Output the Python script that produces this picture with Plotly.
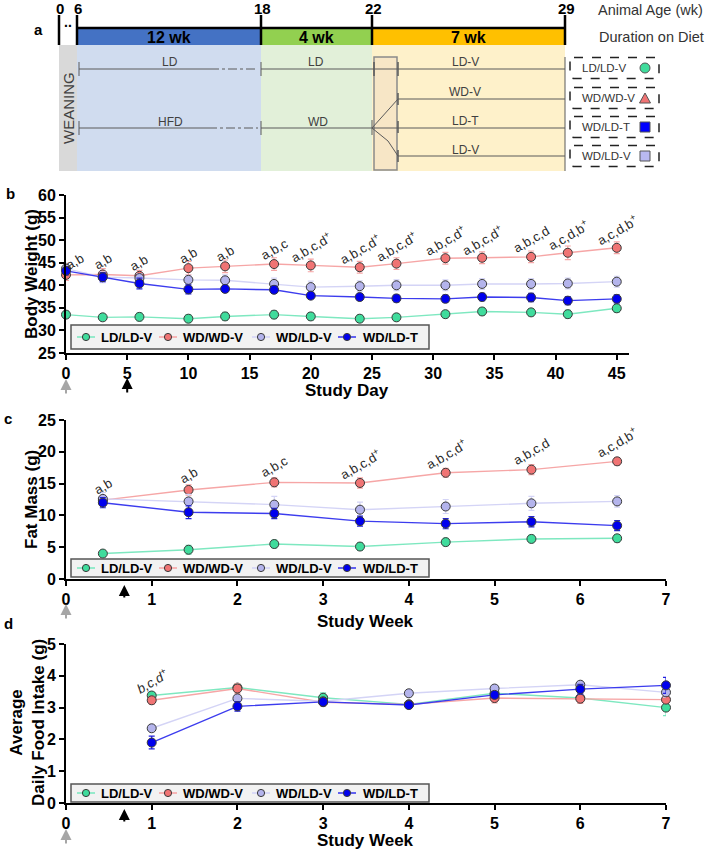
import plotly.graph_objects as go

W, H = 708, 852
FONT = "Arial, 'Liberation Sans', Helvetica, sans-serif"

# ---------------- data ----------------
series_names = ["LD/LD-V", "WD/WD-V", "WD/LD-V", "WD/LD-T"]
marker_fill = ["#3FDC9C", "#F07474", "#B4B4EC", "#0000EE"]
line_col = ["#7EE8C0", "#F6A6A6", "#D4D4F6", "#3C3CEE"]

# b: body weight
study_day = [0, 3, 6, 10, 13, 17, 20, 24, 27, 31, 34, 38, 41, 45]
bw_ld_ldv = [33.5, 32.9, 33.0, 32.6, 33.1, 33.5, 33.1, 32.6, 32.9, 33.6, 34.2, 34.0, 33.6, 34.9]
bw_wd_wdv = [42.3, 42.4, 42.1, 43.8, 44.2, 44.7, 44.4, 44.0, 44.8, 46.0, 46.1, 46.3, 47.2, 48.3]
bw_wd_ldv = [43.7, 41.8, 41.6, 41.2, 41.1, 40.3, 39.6, 39.8, 40.0, 40.0, 40.3, 40.3, 40.4, 40.8]
bw_wd_ldt = [43.2, 41.8, 40.4, 39.1, 39.2, 39.0, 37.7, 37.4, 37.1, 37.0, 37.4, 37.3, 36.6, 37.0]
bw_err_ld_ldv = [0.8, 0.6, 0.9, 0.9, 0.9, 0.9, 0.8, 0.8, 0.8, 0.8, 0.8, 0.8, 0.9, 0.9]
bw_err_wd_wdv = [1.2, 1.3, 1.2, 1.5, 1.4, 1.4, 1.4, 1.3, 1.3, 1.3, 1.3, 1.3, 1.5, 1.3]
bw_err_wd_ldv = [1.2, 1.2, 1.0, 1.0, 1.2, 1.3, 1.3, 1.2, 1.2, 1.2, 1.2, 1.2, 1.2, 1.2]
bw_err_wd_ldt = [0.9, 1.0, 1.2, 1.0, 0.8, 0.8, 0.6, 0.7, 0.8, 0.8, 0.8, 0.9, 0.9, 0.9]
bw_sig = ["a,b", "a,b", "a,b", "a,b", "a,b", "a,b,c", "a,b,c,d<sup>+</sup>", "a,b,c,d<sup>+</sup>",
          "a,b,c,d<sup>+</sup>", "a,b,c,d<sup>+</sup>", "a,b,c,d<sup>+</sup>", "a,b,c,d",
          "a,c,d,b<sup>+</sup>", "a,c,d,b<sup>+</sup>"]

# c: fat mass
fm_week = [0.43, 1.43, 2.43, 3.43, 4.43, 5.43, 6.43]
fm_ld_ldv = [4.0, 4.6, 5.5, 5.1, 5.8, 6.3, 6.4]
fm_wd_wdv = [12.4, 14.0, 15.2, 15.1, 16.7, 17.2, 18.5]
fm_wd_ldv = [12.6, 12.2, 11.7, 10.9, 11.4, 11.9, 12.2]
fm_wd_ldt = [12.0, 10.5, 10.3, 9.1, 8.7, 9.0, 8.4]
fm_err_ld_ldv = [0.4, 0.7, 0.6, 0.6, 0.6, 0.6, 0.6]
fm_err_wd_wdv = [0.7, 0.8, 0.7, 0.8, 0.7, 0.8, 0.6]
fm_err_wd_ldv = [1.0, 1.1, 1.3, 1.2, 1.1, 1.1, 0.9]
fm_err_wd_ldt = [0.8, 1.0, 0.8, 0.8, 0.8, 0.8, 0.8]
fm_sig = ["a,b", "a,b", "a,b,c", "a,b,c,d<sup>+</sup>", "a,b,c,d<sup>+</sup>", "a,b,c,d",
          "a,c,d,b<sup>+</sup>"]

# d: food intake
fi_week = [1, 2, 3, 4, 5, 6, 7]
fi_ld_ldv = [3.38, 3.63, 3.31, 3.10, 3.45, 3.30, 3.00]
fi_wd_wdv = [3.23, 3.60, 3.17, 3.10, 3.30, 3.28, 3.25]
fi_wd_ldv = [2.35, 3.29, 3.20, 3.45, 3.60, 3.72, 3.48]
fi_wd_ldt = [1.90, 3.04, 3.18, 3.08, 3.40, 3.58, 3.70]
fi_err_ld_ldv = [0.08, 0.10, 0.15, 0.10, 0.10, 0.10, 0.25]
fi_err_wd_wdv = [0.12, 0.15, 0.12, 0.10, 0.15, 0.15, 0.12]
fi_err_wd_ldv = [0.10, 0.10, 0.10, 0.10, 0.10, 0.10, 0.15]
fi_err_wd_ldt = [0.20, 0.15, 0.08, 0.08, 0.10, 0.15, 0.25]
fi_sig_week = 1
fi_sig = "<i>b,c,d<sup>+</sup></i>"

# a: schematic timeline
age_ticks = ["0", "6", "18", "22", "29"]
age_px = [59, 77, 261, 372, 565]          # schematic positions (px)
phase_labels = ["12 wk", "4 wk", "7 wk"]
phase_colors = ["#4472C4", "#92D050", "#FFC000"]
phase_bg = ["#D0DCEF", "#E2F0D9", "#FEF1CA"]
group_labels = ["LD/LD-V", "WD/WD-V", "WD/LD-T", "WD/LD-V"]
group_rows = [68, 98, 127, 156]

# ---------------- helpers ----------------
def X(v):
    return v / W


def Y(v):
    return 1 - v / H


shapes = []
annotations = []


def pline(x0, y0, x1, y1, color="#5A5A5A", width=1, dash="solid"):
    shapes.append(dict(type="line", xref="paper", yref="paper", x0=X(x0), y0=Y(y0), x1=X(x1), y1=Y(y1),
                       line=dict(color=color, width=width, dash=dash), layer="above"))


def prect(x0, y0, x1, y1, fill, line_color=None, lw=0, layer="above", opacity=1):
    shapes.append(dict(type="rect", xref="paper", yref="paper", x0=X(x0), y0=Y(y0), x1=X(x1), y1=Y(y1),
                       fillcolor=fill, line=dict(color=line_color or fill, width=lw), layer=layer,
                       opacity=opacity))


def pcircle(xc, yc, r, fill, line_color="#3A3A3A"):
    shapes.append(dict(type="circle", xref="paper", yref="paper", x0=X(xc - r), x1=X(xc + r),
                       y0=Y(yc + r), y1=Y(yc - r), fillcolor=fill, line=dict(color=line_color, width=1),
                       layer="above"))


def ptext(x, y, text, size=12, color="#404040", bold=False, angle=0, xanchor="center", yanchor="middle"):
    annotations.append(dict(xref="paper", yref="paper", x=X(x), y=Y(y), text=text, showarrow=False,
                            textangle=angle, xanchor=xanchor, yanchor=yanchor, borderpad=0,
                            font=dict(family=FONT, size=size, color=color,
                                      weight="bold" if bold else "normal")))


def rrect_path(x0, y0, x1, y1, r):
    return (f"M{X(x0 + r)},{Y(y0)} L{X(x1 - r)},{Y(y0)} Q{X(x1)},{Y(y0)} {X(x1)},{Y(y0 + r)} "
            f"L{X(x1)},{Y(y1 - r)} Q{X(x1)},{Y(y1)} {X(x1 - r)},{Y(y1)} L{X(x0 + r)},{Y(y1)} "
            f"Q{X(x0)},{Y(y1)} {X(x0)},{Y(y1 - r)} L{X(x0)},{Y(y0 + r)} Q{X(x0)},{Y(y0)} {X(x0 + r)},{Y(y0)} Z")


# ---------------- panel a ----------------
top_bar, bar_bottom, bg_bottom = 28, 45, 171
prect(age_px[0], bar_bottom, age_px[1], bg_bottom, "#D9D9D9")
for i in range(3):
    prect(age_px[i + 1], bar_bottom, age_px[i + 2], bg_bottom, phase_bg[i])
    prect(age_px[i + 1], top_bar, age_px[i + 2], bar_bottom, phase_colors[i])
    ptext((age_px[i + 1] + age_px[i + 2]) / 2, 37, phase_labels[i], size=16, color="black", bold=True)
pline(age_px[1], top_bar, age_px[4], top_bar, color="black", width=2.5)
for xp, lab in zip(age_px, age_ticks):
    pline(xp, 15, xp, bar_bottom, color="black", width=2.5)
    ptext(xp + 1, 8, lab, size=15, color="black", bold=True)
ptext(68, 22, "..", size=14, color="black", bold=True)
ptext(38, 30, "a", size=15, color="black", bold=True)
ptext(68, 108, "WEANING", size=15, color="#404040", angle=-90)
ptext(597, 10, "Animal Age (wk)", size=14.5, color="#333333", xanchor="left")
ptext(598, 37, "Duration on Diet", size=14.5, color="#333333", xanchor="left")

# switch box
prect(374, 57, 397, 170, "#F7E6C6", line_color="#8A8A8A", lw=1.5)
# diet lines
pline(79, 69, 210, 69)
pline(210, 69, 258, 69, dash="dashdot")
pline(261, 69, 565, 69)
pline(79, 128, 208, 128)
pline(208, 128, 258, 128, dash="dashdot")
pline(261, 128, 565, 128)
for xp in (79, 261):
    pline(xp, 62, xp, 76)
    pline(xp, 121, xp, 135)
pline(372, 120, 372, 135)
pline(374, 62, 374, 76, width=1.5)
pline(398, 62, 398, 76, width=1.5)
pline(372, 128, 398, 99)
pline(372, 128, 388, 141)
pline(388, 141, 398, 156)
pline(398, 99, 565, 99)
pline(398, 156, 565, 156)
for yy in (99, 127, 156):
    pline(398, yy - 6, 398, yy + 6, width=1.5)
pline(565, 57, 565, 171)
ptext(170, 62, "LD")
ptext(316, 62, "LD")
ptext(170, 122, "HFD")
ptext(318, 122, "WD")
ptext(465, 62, "LD-V")
ptext(465, 92, "WD-V")
ptext(465, 121, "LD-T")
ptext(465, 150, "LD-V")

# group boxes
sym_fill = ["#3FDC9C", "#F07474", "#0000FF", "#B8B8F0"]
for i, (lab, yc) in enumerate(zip(group_labels, group_rows)):
    shapes.append(dict(type="path", xref="paper", yref="paper", path=rrect_path(570, yc - 10.5, 659, yc + 10.5, 4),
                       line=dict(color="#222222", width=1.5, dash="dash"), fillcolor="rgba(0,0,0,0)"))
    ptext(581, yc, lab, size=11.5, color="#333333", xanchor="left")
    if i == 0:
        pcircle(645, yc, 5, sym_fill[i], line_color="#555555")
    elif i == 1:
        p = f"M{X(639.5)},{Y(yc + 5)} L{X(650.5)},{Y(yc + 5)} L{X(645)},{Y(yc - 5)} Z"
        shapes.append(dict(type="path", xref="paper", yref="paper", path=p,
                           fillcolor=sym_fill[i], line=dict(color="#555555", width=1)))
    else:
        prect(640, yc - 5, 650, yc + 5, sym_fill[i], line_color="#555555", lw=1)

# ---------------- panels b, c, d ----------------
fig = go.Figure()

panels = [
    dict(xa="x", ya="y", x=study_day,
         ys=[bw_ld_ldv, bw_wd_wdv, bw_wd_ldv, bw_wd_ldt],
         es=[bw_err_ld_ldv, bw_err_wd_wdv, bw_err_wd_ldv, bw_err_wd_ldt]),
    dict(xa="x2", ya="y2", x=fm_week,
         ys=[fm_ld_ldv, fm_wd_wdv, fm_wd_ldv, fm_wd_ldt],
         es=[fm_err_ld_ldv, fm_err_wd_wdv, fm_err_wd_ldv, fm_err_wd_ldt]),
    dict(xa="x3", ya="y3", x=fi_week,
         ys=[fi_ld_ldv, fi_wd_wdv, fi_wd_ldv, fi_wd_ldt],
         es=[fi_err_ld_ldv, fi_err_wd_wdv, fi_err_wd_ldv, fi_err_wd_ldt]),
]
for p in panels:
    for k in range(4):
        fig.add_trace(go.Scatter(
            x=p["x"], y=p["ys"][k], name=series_names[k], mode="lines+markers",
            xaxis=p["xa"], yaxis=p["ya"], showlegend=False, cliponaxis=False,
            line=dict(color=line_col[k], width=1.4),
            marker=dict(size=9, color=marker_fill[k], line=dict(color="#3A3A3A", width=1)),
            error_y=dict(type="data", array=p["es"][k], color=line_col[k] if k != 3 else "#2020E0",
                         thickness=1.2, width=3),
        ))

# legends (one per panel, drawn inside the plot area like the reference)
leg_marker_x = [86, 168, 261, 347]
leg_text_x = [100, 182, 275, 362]
legend_boxes = [(325, 349), (559, 577), (784, 802)]
for y0, y1 in legend_boxes:
    prect(71, y0, 429, y1, "#F2F2F2", line_color="#555555", lw=1.5)
    yc = (y0 + y1) / 2
    for k in range(4):
        pline(leg_marker_x[k] - 9, yc, leg_marker_x[k] + 9, yc, color=line_col[k], width=1.6)
        pcircle(leg_marker_x[k], yc, 3.6, marker_fill[k])
        ptext(leg_text_x[k], yc, series_names[k], size=13, color="black", bold=True, xanchor="left")

sig_font = dict(family=FONT, size=13, color="#262626")


def vis_len(s):
    return len(s.replace("<sup>", "").replace("</sup>", "").replace("<i>", "").replace("</i>", ""))


for d, v, t in zip(study_day, bw_wd_wdv, bw_sig):
    annotations.append(dict(xref="x", yref="y", x=d, y=v, text=t, showarrow=False, textangle=-30,
                            yshift=10 + vis_len(t), xshift=9 if d == 0 else 0, font=sig_font))
for d, v, t in zip(fm_week, fm_wd_wdv, fm_sig):
    annotations.append(dict(xref="x2", yref="y2", x=d, y=v, text=t, showarrow=False, textangle=-30,
                            yshift=11 + vis_len(t), font=sig_font))
annotations.append(dict(xref="x3", yref="y3", x=fi_sig_week, y=fi_ld_ldv[0], text=fi_sig, showarrow=False,
                        textangle=-30, yshift=15, font=sig_font))

# panel letters & axis titles
ptext(10, 193, "b", size=15, color="black", bold=True)
ptext(8, 418, "c", size=15, color="black", bold=True)
ptext(8, 623, "d", size=15, color="black", bold=True)
ptext(31, 274, "Body Weight (g)", size=17, color="black", bold=True, angle=-90)
ptext(347, 390, "Study Day", size=17, color="black", bold=True)
ptext(31, 500, "Fat Mass (g)", size=17, color="black", bold=True, angle=-90)
ptext(366, 621, "Study Week", size=17, color="black", bold=True)
ptext(27, 723, "Average<br>Daily Food Intake (g)", size=17, color="black", bold=True, angle=-90)
ptext(366, 840, "Study Week", size=17, color="black", bold=True)

# arrows (treatment start / study start)
arrow_specs = [("x", 5, 378, 16, "black"), ("x", 0, 379, 16, "#A6A6A6"),
               ("x2", 0.68, 585, 14, "black"), ("x2", 0, 604, 16, "#A6A6A6"),
               ("x3", 0.68, 809, 14, "black"), ("x3", 0, 829, 16, "#A6A6A6")]
for xa, xv, yhead, ln, col in arrow_specs:
    annotations.append(dict(xref=xa, yref="paper", x=xv, y=Y(yhead), ax=0, ay=ln, text="", showarrow=True,
                            arrowhead=2, arrowsize=1.1, arrowwidth=2, arrowcolor=col))

tickfont = dict(family=FONT, size=16, color="black", weight="bold")
ax_common = dict(showline=True, linewidth=2, linecolor="black", ticks="outside", ticklen=5, tickwidth=2,
                 tickcolor="black", showgrid=False, zeroline=False, tickfont=tickfont, automargin=False,
                 fixedrange=True)

fig.update_layout(
    width=W, height=H, autosize=False, margin=dict(l=0, r=0, t=0, b=0),
    paper_bgcolor="white", plot_bgcolor="rgba(0,0,0,0)", showlegend=False,
    xaxis=dict(domain=[X(66), X(629)], range=[0, 46], tickvals=[0, 5, 10, 15, 20, 25, 30, 35, 40, 45],
               anchor="y", **ax_common),
    yaxis=dict(domain=[Y(353), Y(195)], range=[25, 60], dtick=5, anchor="x", **ax_common),
    xaxis2=dict(domain=[X(66), X(666)], range=[0, 7], dtick=1, anchor="y2", **ax_common),
    yaxis2=dict(domain=[Y(579), Y(420)], range=[0, 25], dtick=5, anchor="x2", **ax_common),
    xaxis3=dict(domain=[X(66), X(666)], range=[0, 7], dtick=1, anchor="y3", **ax_common),
    yaxis3=dict(domain=[Y(803), Y(644)], range=[0, 5], dtick=1, anchor="x3", **ax_common),
    shapes=shapes, annotations=annotations,
)

fig.write_html("out.html", config={"displayModeBar": False},
               post_script="document.body.style.margin='0';document.body.style.overflow='hidden';")
